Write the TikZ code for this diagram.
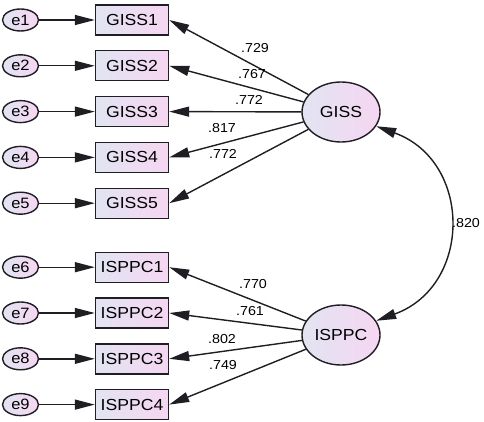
\documentclass[tikz,border=0pt]{standalone}
\usepackage{fontspec}
\setmainfont{Liberation Sans}[FakeStretch=1.1]
\usepackage{tikz}
\usetikzlibrary{arrows.meta}
\usetikzlibrary{positioning}
\usetikzlibrary{shapes.geometric}
\definecolor{semblue}{RGB}{226,228,242}
\definecolor{sempink}{RGB}{246,214,242}
\definecolor{semline}{RGB}{30,30,35}
\tikzset{
  obs/.style={draw=semline, line width=1.4pt, left color=semblue, right color=sempink,
    minimum width=73pt, minimum height=30pt, inner sep=0pt, font=\fontsize{16}{16}\selectfont},
  err/.style={ellipse, draw=semline, line width=1.4pt, left color=semblue, right color=sempink,
    minimum width=36pt, minimum height=22pt, inner sep=0pt, font=\fontsize{15}{15}\selectfont},
  latent/.style={ellipse, draw=semline, line width=1.4pt, left color=semblue, right color=sempink,
    minimum width=78pt, minimum height=60pt, inner sep=0pt, font=\fontsize{16}{16}\selectfont},
  load/.style={draw=semline, line width=1.4pt, -{Triangle[length=20pt,width=10pt]}},
  corr/.style={draw=semline, line width=1.4pt, {Triangle[length=20pt,width=10pt]}-{Triangle[length=20pt,width=10pt]}},
  wt/.style={font=\fontsize{13}{13}\selectfont, inner sep=0pt}
}
\begin{document}
\begin{tikzpicture}[x=1pt, y=-1pt]
      \useasboundingbox (0,0) rectangle (484,422);

      \node[obs] (giss1) at (132,20) {GISS1};
      \node[obs, below=14.4pt of giss1] (giss2) {GISS2};
      \node[obs, below=14.4pt of giss2] (giss3) {GISS3};
      \node[obs, below=14.4pt of giss3] (giss4) {GISS4};
      \node[obs, below=14.4pt of giss4] (giss5) {GISS5};

      \node[obs, below=32.6pt of giss5] (isppc1) {ISPPC1};
      \node[obs, below=14.4pt of isppc1] (isppc2) {ISPPC2};
      \node[obs, below=14.4pt of isppc2] (isppc3) {ISPPC3};
      \node[obs, below=14.4pt of isppc3] (isppc4) {ISPPC4};

      \node[err, left=55.6pt of giss1] (e1) {e1};
      \node[err, left=55.6pt of giss2] (e2) {e2};
      \node[err, left=55.6pt of giss3] (e3) {e3};
      \node[err, left=55.6pt of giss4] (e4) {e4};
      \node[err, left=55.6pt of giss5] (e5) {e5};
      \node[err, left=55.6pt of isppc1] (e6) {e6};
      \node[err, left=55.6pt of isppc2] (e7) {e7};
      \node[err, left=55.6pt of isppc3] (e8) {e8};
      \node[err, left=55.6pt of isppc4] (e9) {e9};

      \node[latent] (giss) at (341,112) {GISS};
      \node[latent] (isppc) at (341,335) {ISPPC};

      \draw[load] (e1) -- (giss1);
      \draw[load] (e2) -- (giss2);
      \draw[load] (e3) -- (giss3);
      \draw[load] (e4) -- (giss4);
      \draw[load] (e5) -- (giss5);
      \draw[load] (e6) -- (isppc1);
      \draw[load] (e7) -- (isppc2);
      \draw[load] (e8) -- (isppc3);
      \draw[load] (e9) -- (isppc4);

      \draw[load] (giss) -- (giss1.east);
      \draw[load] (giss) -- (giss2.east);
      \draw[load] (giss) -- (giss3.east);
      \draw[load] (giss) -- (giss4.east);
      \draw[load] (giss) -- (giss5.east);
      \draw[load] (isppc) -- (isppc1.east);
      \draw[load] (isppc) -- (isppc2.east);
      \draw[load] (isppc) -- (isppc3.east);
      \draw[load] (isppc) -- (isppc4.east);

      \draw[corr] (giss.-22) to[out=-20, in=20, looseness=1.35] (isppc.22);

      \node[wt] (w1) at (255,48) {.729};
      \node[wt] (w2) at (252,74) {.767};
      \node[wt] (w3) at (249,100) {.772};
      \node[wt] (w4) at (222,128) {.817};
      \node[wt] (w5) at (223,154) {.772};
      \node[wt] (w6) at (253,284) {.770};
      \node[wt] (w7) at (250,311) {.761};
      \node[wt] (w8) at (222,339) {.802};
      \node[wt] (w9) at (223,365) {.749};
      \node[wt] (wc) at (466,223) {.820};
    \end{tikzpicture}
\end{document}
